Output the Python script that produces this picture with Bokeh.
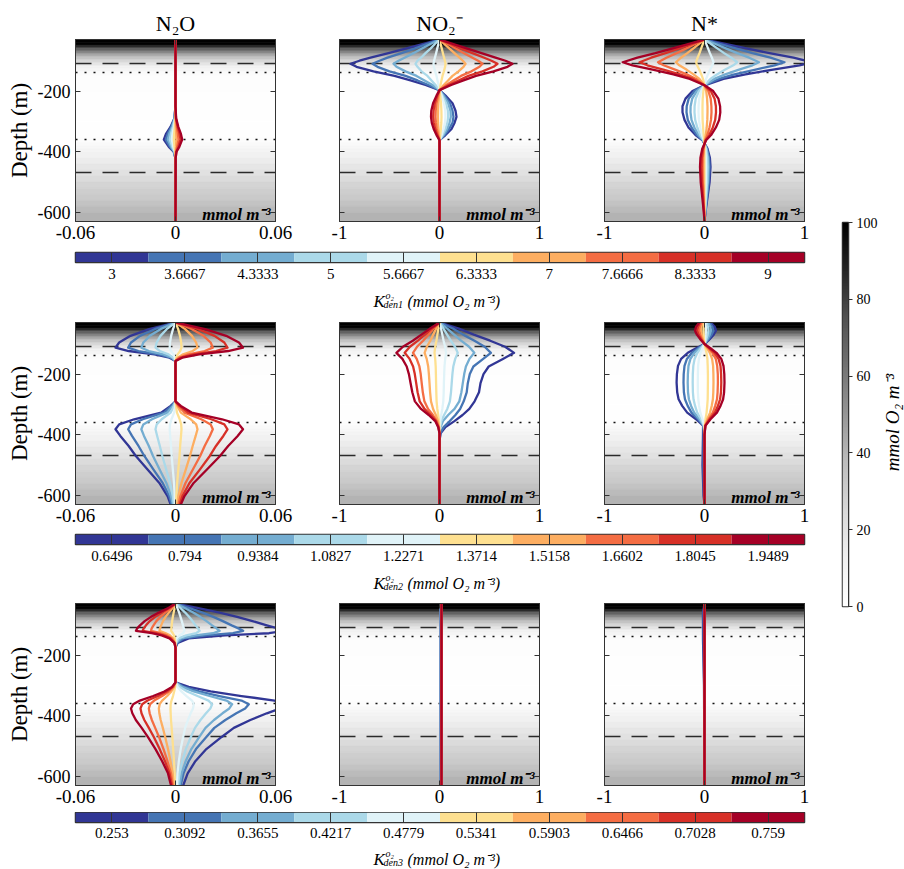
import numpy as np
from bokeh.plotting import figure
from bokeh.layouts import column, row
from bokeh.models import Range1d, LinearColorMapper, Label, LinearAxis, FixedTicker, ColumnDataSource
from bokeh.embed import file_html
from bokeh.resources import INLINE

# ---------------------------------------------------------------- data
COLORS = ["#313695", "#4575b4", "#74add1", "#abd9e9", "#e0f3f8",
          "#fee090", "#fdae61", "#f46d43", "#d73027", "#a50026"]

K1_LABELS = ["3", "3.6667", "4.3333", "5", "5.6667", "6.3333", "7", "7.6666", "8.3333", "9"]
K2_LABELS = ["0.6496", "0.794", "0.9384", "1.0827", "1.2271", "1.3714", "1.5158", "1.6602", "1.8045", "1.9489"]
K3_LABELS = ["0.253", "0.3092", "0.3655", "0.4217", "0.4779", "0.5341", "0.5903", "0.6466", "0.7028", "0.759"]
K_NAMES = ["den1", "den2", "den3"]

TITLES = ["N₂O", "NO₂⁻", "N*"]
X_LIMITS = [0.06, 1.0, 1.0]
X_TICK_LABELS = [["-0.06", "0", "0.06"], ["-1", "0", "1"], ["-1", "0", "1"]]
Y_TICKS = [-200, -400, -600]
Y_TICK_LABELS = ["-200", "-400", "-600"]
DASHED_DEPTHS = [-109, -470]
DOTTED_DEPTHS = [-138, -360]
O2_TICKS = [0, 20, 40, 60, 80, 100]

O2_DEPTH = [-30, -40, -45, -50, -55, -60, -65, -70, -75, -80, -85, -90, -95, -100, -105,
            -110, -115, -120, -125, -130, -135, -140, -150, -200, -300, -350, -360, -370,
            -380, -390, -400, -420, -440, -460, -480, -500, -520, -540, -560, -580, -600, -630]
O2_VALUE = [100, 100, 98, 88, 78, 70, 63, 56, 50, 44, 39, 34, 30, 26, 22,
            18, 15, 12, 9, 7, 5, 3.5, 2, 1.5, 1.5, 2, 3, 5,
            7, 9, 12, 15, 18, 21, 24, 27, 30, 32, 35, 38, 41, 44]

# ---- row 1 : K_den1
N2O_K1_DEPTH = [-30, -250, -290, -318, -340, -360, -384, -400, -420, -630]
N2O_K1 = [
    [0, 0, -0.0007, -0.0030, -0.0056, -0.0070, -0.0040, -0.0011, -0.0001, 0],
    [0, 0, -0.0006, -0.0025, -0.0046, -0.0058, -0.0033, -0.0009, -0.0001, 0],
    [0, 0, -0.0005, -0.0020, -0.0037, -0.0046, -0.0026, -0.0007, -0.0001, 0],
    [0, 0, -0.0003, -0.0015, -0.0027, -0.0034, -0.0019, -0.0005, 0, 0],
    [0, 0, -0.0002, -0.0009, -0.0018, -0.0022, -0.0013, -0.0003, 0, 0],
    [0, 0, -0.0001, -0.0004, -0.0008, -0.0010, -0.0006, -0.0002, 0, 0],
    [0, 0, 0.0001, 0.0002, 0.0004, 0.0005, 0.0003, 0.0001, 0, 0],
    [0, 0, 0.0002, 0.0008, 0.0014, 0.0018, 0.0010, 0.0003, 0, 0],
    [0, 0, 0.0003, 0.0013, 0.0024, 0.0030, 0.0017, 0.0005, 0.0001, 0],
    [0, 0, 0.0004, 0.0017, 0.0032, 0.0040, 0.0023, 0.0006, 0.0001, 0],
]

NO2_K1_DEPTH = [-30, -45, -60, -75, -90, -100, -110, -120, -135, -150, -165, -180, -197,
                -215, -240, -265, -285, -305, -325, -345, -362, -400, -630]
NO2_K1 = [
    [0, -0.17, -0.34, -0.51, -0.69, -0.80, -0.89, -0.83, -0.66, -0.45, -0.29, -0.14, 0, 0.06, 0.13, 0.16, 0.17, 0.15, 0.12, 0.06, 0, 0, 0],
    [0, -0.13, -0.25, -0.38, -0.52, -0.60, -0.67, -0.62, -0.50, -0.34, -0.22, -0.11, 0, 0.05, 0.105, 0.13, 0.14, 0.13, 0.095, 0.05, 0, 0, 0],
    [0, -0.09, -0.175, -0.26, -0.35, -0.41, -0.46, -0.43, -0.34, -0.23, -0.15, -0.07, 0, 0.04, 0.085, 0.11, 0.113, 0.10, 0.077, 0.04, 0, 0, 0],
    [0, -0.046, -0.09, -0.14, -0.185, -0.22, -0.24, -0.22, -0.18, -0.12, -0.08, -0.04, 0, 0.03, 0.065, 0.084, 0.087, 0.078, 0.059, 0.03, 0, 0, 0],
    [0, -0.011, -0.023, -0.034, -0.046, -0.054, -0.06, -0.056, -0.044, -0.03, -0.02, -0.01, 0, 0.021, 0.045, 0.058, 0.06, 0.054, 0.041, 0.021, 0, 0, 0],
    [0, 0.011, 0.023, 0.034, 0.046, 0.054, 0.06, 0.056, 0.044, 0.03, 0.02, 0.01, 0, 0.007, 0.015, 0.019, 0.02, 0.018, 0.014, 0.007, 0, 0, 0],
    [0, 0.05, 0.1, 0.15, 0.2, 0.234, 0.26, 0.24, 0.19, 0.13, 0.086, 0.042, 0, -0.005, -0.011, -0.014, -0.015, -0.014, -0.01, -0.005, 0, 0, 0],
    [0, 0.082, 0.163, 0.245, 0.33, 0.387, 0.43, 0.40, 0.32, 0.215, 0.14, 0.07, 0, -0.014, -0.03, -0.038, -0.04, -0.036, -0.027, -0.014, 0, 0, 0],
    [0, 0.11, 0.22, 0.33, 0.447, 0.52, 0.58, 0.54, 0.43, 0.29, 0.19, 0.093, 0, -0.022, -0.047, -0.06, -0.063, -0.057, -0.043, -0.022, 0, 0, 0],
    [0, 0.14, 0.28, 0.42, 0.56, 0.66, 0.73, 0.68, 0.54, 0.365, 0.24, 0.117, 0, -0.03, -0.064, -0.082, -0.085, -0.077, -0.058, -0.03, 0, 0, 0],
]

NSTAR_K1_DEPTH = [-30, -45, -60, -75, -90, -105, -115, -130, -145, -160, -181, -200, -225,
                  -250, -270, -295, -320, -345, -362, -390, -420, -450, -500, -550, -600, -630]
NSTAR_K1 = [
    [0, 0.22, 0.43, 0.65, 0.89, 1.08, 0.95, 0.67, 0.41, 0.19, 0, -0.12, -0.19, -0.22, -0.22, -0.2, -0.16, -0.09, -0.02, 0.03, 0.054, 0.06, 0.051, 0.03, 0.009, 0],
    [0, 0.16, 0.32, 0.48, 0.66, 0.8, 0.7, 0.5, 0.3, 0.144, 0, -0.1, -0.158, -0.178, -0.18, -0.167, -0.13, -0.076, -0.018, 0.025, 0.045, 0.05, 0.042, 0.025, 0.0075, 0],
    [0, 0.109, 0.218, 0.327, 0.447, 0.545, 0.48, 0.338, 0.207, 0.098, 0, -0.077, -0.123, -0.139, -0.14, -0.13, -0.101, -0.059, -0.014, 0.02, 0.036, 0.04, 0.034, 0.02, 0.006, 0],
    [0, 0.065, 0.131, 0.196, 0.268, 0.327, 0.288, 0.203, 0.124, 0.059, 0, -0.055, -0.088, -0.099, -0.1, -0.093, -0.072, -0.042, -0.01, 0.015, 0.027, 0.03, 0.026, 0.015, 0.0045, 0],
    [0, 0.018, 0.036, 0.054, 0.074, 0.09, 0.079, 0.056, 0.034, 0.016, 0, -0.033, -0.053, -0.059, -0.06, -0.056, -0.043, -0.025, -0.006, 0.0075, 0.0135, 0.015, 0.013, 0.0075, 0.002, 0],
    [0, -0.017, -0.034, -0.05, -0.069, -0.084, -0.074, -0.052, -0.032, -0.015, 0, -0.011, -0.018, -0.02, -0.02, -0.019, -0.014, -0.008, -0.002, 0, 0, 0, 0, 0, 0, 0],
    [0, -0.057, -0.114, -0.172, -0.235, -0.286, -0.252, -0.177, -0.109, -0.051, 0, 0.017, 0.026, 0.03, 0.03, 0.028, 0.022, 0.013, 0.003, -0.005, -0.009, -0.01, -0.0085, -0.005, -0.0015, 0],
    [0, -0.093, -0.186, -0.279, -0.381, -0.465, -0.409, -0.288, -0.177, -0.084, 0, 0.039, 0.062, 0.069, 0.07, 0.065, 0.05, 0.029, 0.007, -0.01, -0.018, -0.02, -0.017, -0.01, -0.003, 0],
    [0, -0.13, -0.26, -0.39, -0.533, -0.65, -0.572, -0.403, -0.247, -0.117, 0, 0.063, 0.101, 0.114, 0.115, 0.107, 0.083, 0.048, 0.012, -0.015, -0.027, -0.03, -0.0255, -0.015, -0.0045, 0],
    [0, -0.164, -0.327, -0.491, -0.671, -0.818, -0.72, -0.507, -0.311, -0.147, 0, 0.087, 0.139, 0.156, 0.158, 0.147, 0.114, 0.066, 0.016, -0.0225, -0.0405, -0.045, -0.038, -0.0225, -0.007, 0],
]

# ---- row 2 : K_den2
N2O_K2_DEPTH = [-30, -52, -74, -96, -113, -124, -135, -146, -157, -290, -305, -327, -349,
                -366, -382, -404, -437, -470, -514, -559, -603, -630]
N2O_K2 = [
    [0, -0.0158, -0.027, -0.0338, -0.036, -0.0281, -0.0126, -0.0036, 0, 0, -0.0029, -0.0086, -0.0248, -0.0338, -0.036, -0.0331, -0.0281, -0.0238, -0.0169, -0.0097, -0.0047, -0.0029],
    [0, -0.0125, -0.0213, -0.0267, -0.0284, -0.0222, -0.0099, -0.0028, 0, 0, -0.0023, -0.0068, -0.0196, -0.0267, -0.0284, -0.0261, -0.0222, -0.0187, -0.0133, -0.0077, -0.0037, -0.0023],
    [0, -0.009, -0.0154, -0.0193, -0.0205, -0.016, -0.0072, -0.0021, 0, 0, -0.0016, -0.0049, -0.0141, -0.0193, -0.0205, -0.0189, -0.016, -0.0135, -0.0096, -0.0055, -0.0027, -0.0016],
    [0, -0.0053, -0.009, -0.0113, -0.012, -0.0094, -0.0042, -0.0012, 0, 0, -0.001, -0.0029, -0.0083, -0.0113, -0.012, -0.011, -0.0094, -0.0079, -0.0056, -0.0032, -0.0016, -0.001],
    [0, -0.0015, -0.0026, -0.0033, -0.0035, -0.0027, -0.0012, -0.0004, 0, 0, -0.0003, -0.0008, -0.0024, -0.0033, -0.0035, -0.0032, -0.0027, -0.0023, -0.0016, -0.0009, -0.0005, -0.0003],
    [0, 0.0016, 0.0027, 0.0034, 0.0036, 0.0028, 0.0013, 0.0004, 0, 0, 0.0003, 0.0009, 0.0025, 0.0034, 0.0036, 0.0033, 0.0028, 0.0024, 0.0017, 0.001, 0.0005, 0.0003],
    [0, 0.0058, 0.0099, 0.0124, 0.0132, 0.0103, 0.0046, 0.0013, 0, 0, 0.0011, 0.0032, 0.0091, 0.0124, 0.0132, 0.0121, 0.0103, 0.0087, 0.0062, 0.0036, 0.0017, 0.0011],
    [0, 0.0099, 0.0168, 0.0211, 0.0224, 0.0175, 0.0078, 0.0022, 0, 0, 0.0018, 0.0054, 0.0155, 0.0211, 0.0224, 0.0206, 0.0175, 0.0148, 0.0105, 0.006, 0.0029, 0.0018],
    [0, 0.0137, 0.0234, 0.0293, 0.0312, 0.0243, 0.0109, 0.0031, 0, 0, 0.0025, 0.0075, 0.0215, 0.0293, 0.0312, 0.0287, 0.0243, 0.0206, 0.0147, 0.0084, 0.0041, 0.0025],
    [0, 0.0178, 0.0304, 0.0381, 0.0405, 0.0316, 0.0142, 0.0041, 0, 0, 0.0032, 0.0097, 0.0279, 0.0381, 0.0405, 0.0373, 0.0316, 0.0267, 0.019, 0.0109, 0.0053, 0.0032],
]

NO2_K2_DEPTH = [-30, -50, -70, -90, -110, -130, -150, -175, -200, -230, -260, -290, -315,
                -335, -355, -375, -395, -420, -630]
NO2_K2 = [
    [0, 0.194, 0.343, 0.507, 0.656, 0.746, 0.634, 0.492, 0.44, 0.41, 0.395, 0.351, 0.298, 0.231, 0.149, 0.06, 0.011, 0, 0],
    [0, 0.134, 0.236, 0.35, 0.452, 0.514, 0.437, 0.339, 0.303, 0.283, 0.272, 0.242, 0.206, 0.159, 0.103, 0.041, 0.008, 0, 0],
    [0, 0.077, 0.146, 0.216, 0.296, 0.348, 0.299, 0.264, 0.247, 0.233, 0.219, 0.198, 0.15, 0.087, 0.035, 0.01, 0, 0, 0],
    [0, 0.04, 0.076, 0.113, 0.155, 0.182, 0.157, 0.138, 0.129, 0.122, 0.115, 0.104, 0.078, 0.046, 0.018, 0.005, 0, 0, 0],
    [0, 0.015, 0.028, 0.041, 0.056, 0.066, 0.057, 0.05, 0.047, 0.044, 0.042, 0.038, 0.028, 0.017, 0.007, 0.002, 0, 0, 0],
    [0, -0.011, -0.021, -0.031, -0.043, -0.05, -0.043, -0.038, -0.036, -0.034, -0.032, -0.029, -0.022, -0.013, -0.005, -0.002, 0, 0, 0],
    [0, -0.033, -0.063, -0.092, -0.127, -0.149, -0.128, -0.113, -0.106, -0.1, -0.094, -0.085, -0.064, -0.037, -0.015, -0.004, 0, 0, 0],
    [0, -0.058, -0.111, -0.164, -0.225, -0.265, -0.228, -0.201, -0.188, -0.178, -0.167, -0.151, -0.114, -0.066, -0.027, -0.008, 0, 0, 0],
    [0, -0.077, -0.146, -0.216, -0.296, -0.348, -0.299, -0.264, -0.247, -0.233, -0.219, -0.198, -0.15, -0.087, -0.035, -0.01, 0, 0, 0],
    [0, -0.095, -0.181, -0.267, -0.366, -0.431, -0.371, -0.328, -0.306, -0.289, -0.272, -0.246, -0.185, -0.108, -0.043, -0.013, 0, 0, 0],
]

NSTAR_K2_DEPTH = [-30, -45, -57, -70, -85, -101, -115, -130, -150, -173, -200, -228, -260,
                  -283, -305, -327, -349, -370, -400, -500, -600, -630]
NSTAR_K2 = [
    [0.063, 0.104, 0.115, 0.092, 0.052, 0, -0.084, -0.167, -0.234, -0.265, -0.276, -0.279, -0.273, -0.259, -0.223, -0.173, -0.084, -0.014, -0.015, -0.02, -0.01, 0],
    [0.05, 0.081, 0.09, 0.072, 0.041, 0, -0.063, -0.126, -0.176, -0.2, -0.208, -0.21, -0.206, -0.195, -0.168, -0.13, -0.063, -0.011, -0.008, -0.01, -0.005, 0],
    [0.036, 0.059, 0.065, 0.052, 0.029, 0, -0.05, -0.101, -0.141, -0.16, -0.166, -0.168, -0.165, -0.156, -0.134, -0.104, -0.05, -0.008, 0, 0, 0, 0],
    [0.022, 0.036, 0.04, 0.032, 0.018, 0, -0.035, -0.071, -0.099, -0.112, -0.117, -0.118, -0.116, -0.11, -0.094, -0.073, -0.035, -0.006, 0, 0, 0, 0],
    [0.008, 0.014, 0.015, 0.012, 0.007, 0, -0.02, -0.04, -0.056, -0.064, -0.066, -0.067, -0.066, -0.062, -0.054, -0.042, -0.02, -0.003, 0, 0, 0, 0],
    [-0.006, -0.009, -0.01, -0.008, -0.005, 0, 0.01, 0.02, 0.029, 0.032, 0.034, 0.034, 0.033, 0.032, 0.027, 0.021, 0.01, 0.002, 0, 0, 0, 0],
    [-0.019, -0.032, -0.035, -0.028, -0.016, 0, 0.027, 0.054, 0.076, 0.086, 0.089, 0.09, 0.088, 0.084, 0.072, 0.056, 0.027, 0.005, 0, 0, 0, 0],
    [-0.03, -0.05, -0.055, -0.044, -0.025, 0, 0.04, 0.08, 0.113, 0.127, 0.133, 0.134, 0.131, 0.125, 0.107, 0.083, 0.04, 0.007, 0, 0, 0, 0],
    [-0.041, -0.068, -0.075, -0.06, -0.034, 0, 0.05, 0.101, 0.141, 0.16, 0.166, 0.168, 0.165, 0.156, 0.134, 0.104, 0.05, 0.008, 0, 0, 0, 0],
    [-0.052, -0.086, -0.095, -0.076, -0.043, 0, 0.06, 0.12, 0.168, 0.19, 0.198, 0.2, 0.196, 0.186, 0.16, 0.124, 0.06, 0.01, 0, 0, 0, 0],
]

# ---- row 3 : K_den3
N2O_K3_DEPTH = [-30, -46, -60, -74, -88, -102, -112, -120, -128, -135, -145, -160, -175,
                -290, -305, -320, -335, -350, -362, -376, -392, -414, -440, -470, -510, -550, -590, -630]
N2O_K3 = [
    [0, 0.0145, 0.0264, 0.037, 0.0462, 0.0548, 0.0614, 0.066, 0.0561, 0.0297, 0.0079, 0.0013, 0,
     0, 0.0079, 0.0211, 0.0396, 0.0594, 0.066, 0.0627, 0.0548, 0.0449, 0.035, 0.0277, 0.0185, 0.0119, 0.0073, 0.0046],
    [0, 0.0089, 0.0162, 0.0227, 0.0284, 0.0337, 0.0378, 0.0406, 0.0345, 0.0183, 0.0049, 0.0008, 0,
     0, 0.0053, 0.0141, 0.0264, 0.0396, 0.044, 0.0418, 0.0365, 0.0299, 0.0233, 0.0185, 0.0123, 0.0079, 0.0048, 0.0031],
    [0, 0.0058, 0.0106, 0.0148, 0.0186, 0.022, 0.0246, 0.0265, 0.0225, 0.0119, 0.0032, 0.0005, 0,
     0, 0.0041, 0.0109, 0.0204, 0.0306, 0.034, 0.0323, 0.0282, 0.0231, 0.018, 0.0143, 0.0095, 0.0061, 0.0037, 0.0024],
    [0, 0.0032, 0.0058, 0.0081, 0.0102, 0.012, 0.0135, 0.0145, 0.0123, 0.0065, 0.0017, 0.0003, 0,
     0, 0.0026, 0.007, 0.0132, 0.0198, 0.022, 0.0209, 0.0183, 0.015, 0.0117, 0.0092, 0.0062, 0.004, 0.0024, 0.0015],
    [0, 0.0012, 0.0022, 0.003, 0.0038, 0.0045, 0.005, 0.0054, 0.0046, 0.0024, 0.0006, 0.0001, 0,
     0, 0.0013, 0.0035, 0.0066, 0.0099, 0.011, 0.0105, 0.0091, 0.0075, 0.0058, 0.0046, 0.0031, 0.002, 0.0012, 0.0008],
    [0, -0.0005, -0.0011, -0.0016, -0.002, -0.0023, -0.0025, -0.0026, -0.0016, -0.0009, -0.0004, -0.0001, 0,
     0, -0.0002, -0.0008, -0.0015, -0.0024, -0.0029, -0.003, -0.0029, -0.0027, -0.0023, -0.0019, -0.0014, -0.0009, -0.0005, -0.0003],
    [0, -0.0019, -0.004, -0.006, -0.0075, -0.0086, -0.0093, -0.0096, -0.0058, -0.0034, -0.0014, -0.0003, 0,
     0, -0.0008, -0.0025, -0.005, -0.008, -0.0095, -0.01, -0.0097, -0.0089, -0.0076, -0.0062, -0.0045, -0.003, -0.0017, -0.001],
    [0, -0.0029, -0.0062, -0.0091, -0.0115, -0.0132, -0.0143, -0.0147, -0.0088, -0.0051, -0.0022, -0.0004, 0,
     0, -0.0013, -0.004, -0.008, -0.0128, -0.0152, -0.016, -0.0155, -0.0142, -0.0122, -0.0099, -0.0072, -0.0048, -0.0027, -0.0016],
    [0, -0.0039, -0.0083, -0.0122, -0.0154, -0.0177, -0.0191, -0.0197, -0.0118, -0.0069, -0.003, -0.0006, 0,
     0, -0.0017, -0.0053, -0.0105, -0.0168, -0.02, -0.021, -0.0204, -0.0187, -0.016, -0.013, -0.0095, -0.0063, -0.0036, -0.0021],
    [0, -0.0047, -0.01, -0.0147, -0.0185, -0.0213, -0.023, -0.0237, -0.0142, -0.0083, -0.0036, -0.0007, 0,
     0, -0.0021, -0.0067, -0.0134, -0.0214, -0.0254, -0.0267, -0.0259, -0.0238, -0.0203, -0.0166, -0.012, -0.008, -0.0045, -0.0027],
]

NO2_K3_DEPTH = [-30, -630]
NO2_K3 = [
    [0.01, 0.01], [0.012, 0.012], [0.014, 0.014], [0.015, 0.015], [0.016, 0.016],
    [0.017, 0.017], [0.018, 0.018], [0.019, 0.019], [0.02, 0.02], [0.02, 0.02],
]

NSTAR_K3_DEPTH = [-30, -60, -150, -300, -630]
NSTAR_K3 = [
    [0, -0.015, -0.015, -0.005, 0],
    [0, -0.008, -0.008, -0.003, 0],
    [0, -0.004, -0.004, -0.001, 0],
    [0, 0, 0, 0, 0], [0, 0, 0, 0, 0], [0, 0, 0, 0, 0], [0, 0, 0, 0, 0],
    [0, 0, 0, 0, 0], [0, 0, 0, 0, 0], [0, 0, 0, 0, 0],
]

PANELS = [
    [(N2O_K1_DEPTH, N2O_K1), (NO2_K1_DEPTH, NO2_K1), (NSTAR_K1_DEPTH, NSTAR_K1)],
    [(N2O_K2_DEPTH, N2O_K2), (NO2_K2_DEPTH, NO2_K2), (NSTAR_K2_DEPTH, NSTAR_K2)],
    [(N2O_K3_DEPTH, N2O_K3), (NO2_K3_DEPTH, NO2_K3), (NSTAR_K3_DEPTH, NSTAR_K3)],
]
K_LABELS = [K1_LABELS, K2_LABELS, K3_LABELS]

# ---------------------------------------------------------------- style / layout
SERIF = "Liberation Serif"
PAGE_H = 869
Y_TOP, Y_BOTTOM = -30, -630
PW, BL, BR = [306, 265, 264], [75, 33, 33], [31, 32, 31]
BT, BB = [39, 10, 10], [29, 29, 27]
FRAME_H = 182
PH = [BT[i] + FRAME_H + BB[i] for i in range(3)]
ROW_TOP = [0, 312, 593, PAGE_H]
CB_BT, CB_BB, CB_STANDOFF = [2, 1, 0], [24, 24, 22], [6, 6, 5]
CB_H = [CB_BT[i] + 10 + CB_BB[i] for i in range(3)]
CT_H = [ROW_TOP[i + 1] - ROW_TOP[i] - PH[i] - CB_H[i] for i in range(3)]
K_DROP = 15          # baseline of "K" below the top of the title strip
CB_W, CB_L, CB_R = 835, 75, 31
AX_COLOR = "#333333"

GREY_STOPS = ["#ffffff", "#f0f0f0", "#d9d9d9", "#bdbdbd", "#969696",
              "#737373", "#525252", "#252525", "#000000"]


def build_palette(stops, n=256):
    rgb = np.array([[int(s[i:i + 2], 16) for i in (1, 3, 5)] for s in stops], float)
    t = np.linspace(0, 1, len(stops))
    out = []
    for v in np.linspace(0, 1, n):
        r, g, b = (np.interp(v, t, rgb[:, k]) for k in range(3))
        out.append("#%02x%02x%02x" % (int(round(r)), int(round(g)), int(round(b))))
    return out


GREYS = build_palette(GREY_STOPS)
mapper = LinearColorMapper(palette=GREYS, low=0, high=100)


def hide_labels(ax):
    ax.major_label_text_color = None
    ax.major_label_text_font_size = "0px"
    ax.major_label_standoff = 0


def style_axis(ax, ticks):
    ax.ticker = FixedTicker(ticks=ticks)
    ax.major_tick_in = 5
    ax.major_tick_out = 0
    ax.minor_tick_line_color = None
    ax.axis_line_color = AX_COLOR
    ax.major_tick_line_color = AX_COLOR
    ax.major_label_text_font = SERIF
    ax.major_label_text_color = "black"


def plain(p):
    p.xgrid.grid_line_color = None
    p.ygrid.grid_line_color = None
    return p


def make_panel(r, c):
    depth, curves = PANELS[r][c]
    xl = X_LIMITS[c]
    p = figure(width=PW[c], height=PH[r], x_range=Range1d(-xl, xl),
               y_range=Range1d(Y_BOTTOM, Y_TOP), output_backend="svg",
               toolbar_location=None, min_border_left=BL[c], min_border_right=BR[c],
               min_border_top=BT[r], min_border_bottom=BB[r],
               title=TITLES[c] if r == 0 else None)
    plain(p)
    p.outline_line_color = AX_COLOR
    p.background_fill_color = "white"
    p.border_fill_color = "white"
    if r == 0:
        p.title.align = "center"
        p.title.text_font = SERIF
        p.title.text_font_style = "normal"
        p.title.text_font_size = "22px"
        p.title.text_color = "black"
        p.title.standoff = 8

    # oxygen background
    src = ColumnDataSource(dict(top=O2_DEPTH[:-1], bottom=O2_DEPTH[1:], v=O2_VALUE[:-1]))
    p.quad(left=-xl, right=xl, top="top", bottom="bottom", source=src,
           fill_color={"field": "v", "transform": mapper},
           line_color={"field": "v", "transform": mapper}, line_width=0.6)

    p.hspan(y=DASHED_DEPTHS, line_color="#2a2a2a", line_width=1.4, line_dash="16 11")
    p.hspan(y=DOTTED_DEPTHS, line_color="#111111", line_width=1.6, line_dash="2 7")

    for i, xs in enumerate(curves):
        p.line(x=xs, y=depth, line_color=COLORS[i], line_width=2.3, line_join="round")

    # axes
    bx = p.xaxis[0]
    style_axis(bx, [-xl, 0, xl])
    bx.major_label_overrides = {t: l for t, l in zip([-xl, 0, xl], X_TICK_LABELS[c])}
    bx.major_label_text_font_size = "19px"
    bx.major_label_standoff = 4

    ly = p.yaxis[0]
    style_axis(ly, Y_TICKS)
    if c == 0:
        ly.major_label_overrides = {t: l for t, l in zip(Y_TICKS, Y_TICK_LABELS)}
        ly.major_label_text_font_size = "18px"
        ly.major_label_standoff = 5
        ly.axis_label = "Depth (m)"
        ly.axis_label_text_font = SERIF
        ly.axis_label_text_font_style = "normal"
        ly.axis_label_text_font_size = "23px"
        ly.axis_label_text_color = "black"
        ly.axis_label_standoff = 3
    else:
        hide_labels(ly)

    ra = LinearAxis()
    style_axis(ra, Y_TICKS)
    hide_labels(ra)
    p.add_layout(ra, "right")
    ta = LinearAxis()
    style_axis(ta, [-xl, 0, xl])
    hide_labels(ta)
    p.add_layout(ta, "above")

    p.add_layout(Label(x=xl - 5 * (2 * xl / 200), y=Y_BOTTOM + 7 * (600 / FRAME_H),
                       text="mmol m⁻³", text_align="right", text_baseline="alphabetic",
                       text_font=SERIF, text_font_style="bold italic",
                       text_font_size="17px", text_color="black"))
    return p


def make_cbar(r):
    p = figure(width=CB_W, height=CB_H[r], x_range=Range1d(0, 10), y_range=Range1d(0, 1),
               output_backend="svg", toolbar_location=None, min_border_left=CB_L,
               min_border_right=CB_R, min_border_top=CB_BT[r], min_border_bottom=CB_BB[r],
               y_axis_location=None)
    plain(p)
    p.outline_line_color = AX_COLOR
    p.outline_line_width = 1.5
    idx = list(range(len(COLORS)))
    p.quad(left=idx, right=[i + 1 for i in idx], bottom=0, top=1,
           fill_color=COLORS, line_color=None)
    ax = p.xaxis[0]
    ticks = [i + 0.5 for i in idx]
    ax.ticker = FixedTicker(ticks=ticks)
    ax.major_label_overrides = {t: l for t, l in zip(ticks, K_LABELS[r])}
    ax.major_tick_in = 10
    ax.major_tick_out = 0
    ax.minor_tick_line_color = None
    ax.axis_line_color = AX_COLOR
    ax.major_tick_line_color = AX_COLOR
    ax.major_label_text_font = SERIF
    ax.major_label_text_font_size = "15px"
    ax.major_label_text_color = "black"
    ax.major_label_standoff = CB_STANDOFF[r]
    return p


def make_cbar_title(r):
    # same side borders as the other members of the column; x data == page pixels
    h = CT_H[r]
    kd = K_DROP
    p = figure(width=CB_W, height=h, x_range=Range1d(CB_L, CB_W - CB_R), y_range=Range1d(0, h),
               output_backend="svg", toolbar_location=None, min_border_left=CB_L,
               min_border_right=CB_R, min_border_top=0, min_border_bottom=0,
               x_axis_location=None, y_axis_location=None)
    plain(p)
    p.outline_line_color = None
    common = dict(text_font=SERIF, text_color="black", text_baseline="alphabetic",
                  text_font_style="italic")
    p.add_layout(Label(x=373, y=h - kd, text="K", text_font_size="17px", **common))
    p.add_layout(Label(x=385, y=h - kd + 6, text="o₂", text_font_size="10px", **common))
    p.add_layout(Label(x=383, y=h - kd - 2.6, text=K_NAMES[r], text_font_size="10px", **common))
    p.add_layout(Label(x=407, y=h - kd, text="(mmol O₂ m⁻³)", text_font_size="16px", **common))
    return p


O2B_W, O2B_L, O2B_R, O2B_T, O2B_B = 45, 7, 28, 222, 263


def make_o2_bar():
    p = figure(width=O2B_W, height=PAGE_H, x_range=Range1d(0, 1), y_range=Range1d(0, 100),
               output_backend="svg", toolbar_location=None, min_border_left=O2B_L,
               min_border_right=O2B_R, min_border_top=O2B_T, min_border_bottom=O2B_B,
               x_axis_location=None, y_axis_location="right")
    plain(p)
    p.outline_line_color = AX_COLOR
    p.outline_line_width = 1.5
    grad = np.linspace(0, 100, 256).reshape(256, 1)
    p.image(image=[grad], x=0, y=0, dw=1, dh=100, color_mapper=mapper)
    ax = p.yaxis[0]
    ax.ticker = FixedTicker(ticks=O2_TICKS)
    ax.major_label_overrides = {t: str(t) for t in O2_TICKS}
    ax.major_tick_in = 0
    ax.major_tick_out = 4
    ax.minor_tick_line_color = None
    ax.axis_line_color = AX_COLOR
    ax.major_tick_line_color = AX_COLOR
    ax.major_label_text_font = SERIF
    ax.major_label_text_font_size = "14px"
    ax.major_label_text_color = "black"
    ax.major_label_standoff = 4
    return p


def make_o2_title():
    w = 904 - CB_W - O2B_W
    p = figure(width=w, height=PAGE_H, x_range=Range1d(0, w), y_range=Range1d(0, 100),
               output_backend="svg", toolbar_location=None, min_border_left=0,
               min_border_right=0, min_border_top=O2B_T, min_border_bottom=O2B_B,
               x_axis_location=None, y_axis_location=None)
    plain(p)
    p.outline_line_color = None
    frame_h = PAGE_H - O2B_T - O2B_B
    yc = (PAGE_H - O2B_B - 422) / frame_h * 100
    p.add_layout(Label(x=w / 2, y=yc, text="mmol O₂ m⁻³", angle=np.pi / 2,
                       text_align="center", text_baseline="middle", text_font=SERIF,
                       text_font_style="italic", text_font_size="19px", text_color="black"))
    return p


blocks = []
for r in range(3):
    blocks.append(row(*[make_panel(r, c) for c in range(3)], spacing=0))
    blocks.append(make_cbar(r))
    blocks.append(make_cbar_title(r))
left = column(*blocks, spacing=0)
layout = row(left, make_o2_bar(), make_o2_title(), spacing=0)

open("out.html", "w").write(file_html(layout, INLINE))
